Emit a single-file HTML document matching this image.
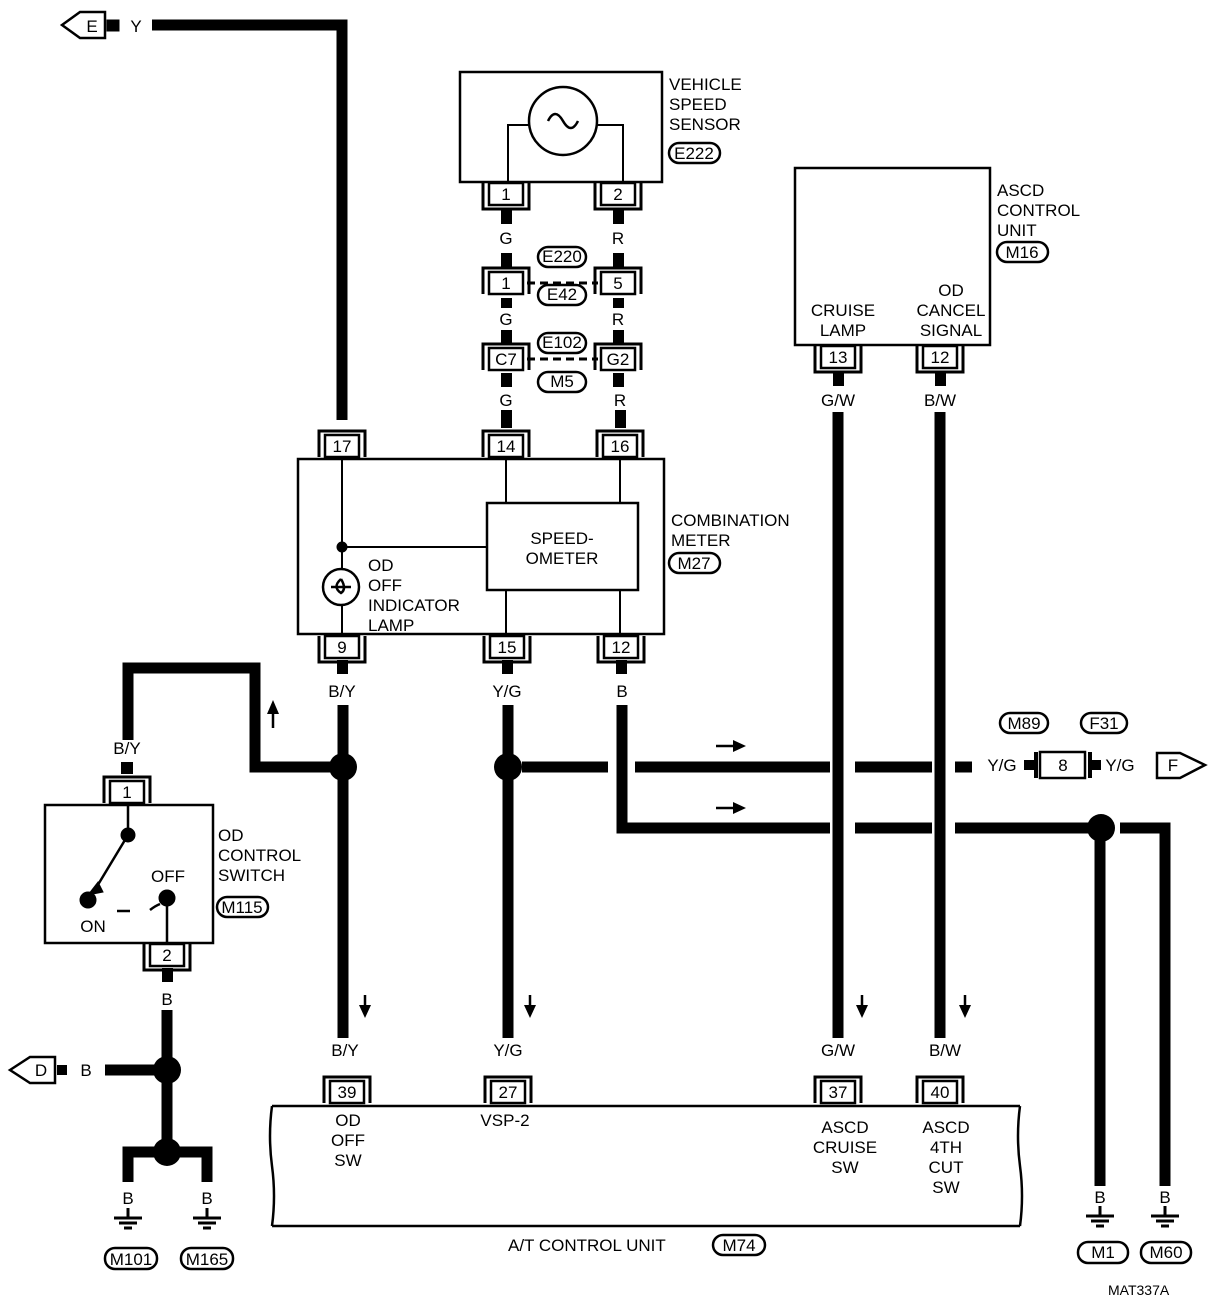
<!DOCTYPE html>
<html><head><style>
html,body{margin:0;padding:0;background:#fff;}
svg{display:block;font-family:"Liberation Sans",sans-serif;}
text{font-size:17px;fill:#000;}
.t{text-anchor:middle;}
</style></head><body>
<svg width="1216" height="1302" viewBox="0 0 1216 1302" xmlns="http://www.w3.org/2000/svg">
<defs>
<g id="cT"><path d="M-23 11 V-15 H23 V11" fill="none" stroke="#000" stroke-width="3"/><rect x="-17" y="-11" width="34" height="22" fill="#fff" stroke="#000" stroke-width="2.5"/></g>
<g id="cB"><path d="M-23 -11 V15 H23 V-11" fill="none" stroke="#000" stroke-width="3"/><rect x="-17" y="-11" width="34" height="22" fill="#fff" stroke="#000" stroke-width="2.5"/></g>
<g id="gnd"><line x1="0" y1="0" x2="0" y2="10" stroke="#000" stroke-width="3"/><line x1="-14" y1="10" x2="14" y2="10" stroke="#000" stroke-width="3"/><line x1="-9" y1="15" x2="9" y2="15" stroke="#000" stroke-width="3"/><line x1="-4" y1="20" x2="4" y2="20" stroke="#000" stroke-width="3"/></g>
</defs>
<g stroke="#000" fill="none">
<path d="M342 420 V25 H152" stroke-width="11"/>
<path d="M62 25 L80 12 H105 V38 H80 Z" stroke-width="2.5" fill="#fff"/>
<rect x="107" y="20" width="12" height="11" fill="#000"/>
<rect x="460" y="72" width="202" height="110" stroke-width="2.5"/>
<circle cx="563" cy="121" r="34" stroke-width="2.5"/>
<path d="M548 121 q7 -14 15 0 q8 14 15 0" stroke-width="2.5"/>
<path d="M529 125 H508 V182 M597 125 H623 V182" stroke-width="2"/>
<g fill="#000" stroke="none">
<rect x="501" y="209" width="11" height="15"/><rect x="613" y="209" width="11" height="15"/>
<rect x="501" y="253" width="11" height="15"/><rect x="613" y="253" width="11" height="15"/>
<rect x="501" y="298" width="11" height="10"/><rect x="613" y="298" width="11" height="10"/>
<rect x="501" y="330" width="11" height="15"/><rect x="613" y="330" width="11" height="15"/>
<rect x="501" y="373" width="11" height="14"/><rect x="613" y="373" width="11" height="14"/>
<rect x="501" y="410" width="11" height="18"/><rect x="615" y="410" width="11" height="18"/>
<rect x="337" y="660" width="11" height="14"/><rect x="502" y="660" width="11" height="14"/><rect x="616" y="660" width="11" height="14"/>
<rect x="833" y="372" width="11" height="14"/><rect x="935" y="372" width="11" height="14"/>
<rect x="121" y="762" width="12" height="12"/><rect x="162" y="968" width="11" height="14"/>
</g>
<path d="M527 283 H598 M527 359 H598" stroke-width="3" stroke-dasharray="8 5"/>
<g stroke-width="2.5" fill="#fff">
<rect x="669" y="143" width="51" height="20" rx="10"/>
<rect x="538" y="247" width="48" height="20" rx="10"/>
<rect x="538" y="285" width="48" height="20" rx="10"/>
<rect x="538" y="333" width="48" height="20" rx="10"/>
<rect x="538" y="372" width="48" height="20" rx="10"/>
<rect x="669" y="553" width="51" height="20" rx="10"/>
<rect x="997" y="242" width="51" height="20" rx="10"/>
<rect x="1000" y="713" width="48" height="20" rx="10"/>
<rect x="1081" y="713" width="46" height="20" rx="10"/>
<rect x="217" y="897" width="51" height="20" rx="10"/>
<rect x="105" y="1248" width="52" height="21" rx="10"/>
<rect x="181" y="1248" width="52" height="21" rx="10"/>
<rect x="713" y="1235" width="52" height="20" rx="10"/>
<rect x="1078" y="1242" width="50" height="21" rx="10"/>
<rect x="1141" y="1242" width="50" height="21" rx="10"/>
</g>
<rect x="298" y="459" width="366" height="175" stroke-width="2.5"/>
<rect x="487" y="503" width="151" height="87" stroke-width="2.5"/>
<path d="M342 459 V569 M342 605 V634 M506 459 V503 M620 459 V503 M506 590 V634 M620 590 V634 M342 547 H487" stroke-width="2"/>
<circle cx="342" cy="547" r="5" fill="#000"/>
<circle cx="341" cy="587" r="18" stroke-width="2.5"/>
<path d="M341 579 q-9 8 0 14 q6 -4 0 -14 M331 587 H351" stroke-width="2.5"/>
<rect x="795" y="168" width="195" height="177" stroke-width="2.5"/>
<path d="M838 412 V1038 M940 412 V1038" stroke-width="11"/>
<path d="M343 705 V1038" stroke-width="11"/>
<path d="M330 767 H255 V668 H128 V740" stroke-width="11"/>
<path d="M508 705 V1038" stroke-width="11"/>
<path d="M522 767 H608 M635 767 H830 M855 767 H932 M955 767 H972" stroke-width="11"/>
<path d="M622 705 V828 H830 M855 828 H932 M955 828 H1090" stroke-width="11"/>
<path d="M1100 828 V1186 M1120 828 H1165 V1186" stroke-width="11"/>
<path d="M1157 753 H1180 L1205 765 L1180 778 H1157 Z" stroke-width="2.5" fill="#fff"/>
<rect x="1034" y="752" width="4" height="26" fill="#000" stroke="none"/>
<rect x="1088" y="752" width="4" height="26" fill="#000" stroke="none"/>
<rect x="1040" y="752" width="45" height="26" stroke-width="2.5" fill="#fff"/>
<rect x="1091" y="760" width="10" height="10" fill="#000" stroke="none"/>
<rect x="1024" y="760" width="10" height="10" fill="#000" stroke="none"/>
<rect x="45" y="805" width="168" height="138" stroke-width="2.5"/>
<path d="M128 805 V835 L93 893 M167 898 V943" stroke-width="2.5"/>
<path d="M88 895 L98 882 L103 892 Z" fill="#000"/>
<path d="M117 911 H130 M150 910 q5 -4 10 -6" stroke-width="2.5"/>
<circle cx="128" cy="835" r="7" fill="#000"/>
<circle cx="88" cy="900" r="8" fill="#000"/>
<circle cx="167" cy="898" r="8" fill="#000"/>
<path d="M167 1010 V1152 M155 1152 H128 V1182 M180 1152 H207 V1182 M155 1070 H105" stroke-width="11"/>
<path d="M10 1070 L30 1057 H55 V1083 H30 Z" stroke-width="2.5" fill="#fff"/>
<rect x="57" y="1065" width="10" height="10" fill="#000" stroke="none"/>
<path d="M272 1106 H1020 M272 1106 q-4 30 0 60 q4 30 0 60 M1020 1106 q-4 30 0 60 q4 30 0 60 M272 1226 H1020" stroke-width="2.5"/>
<g stroke-width="2.5">
<path d="M716 746 H735 M716 808 H735"/>
<path d="M273 728 V710 M365 995 V1012 M530 995 V1012 M862 995 V1012 M965 995 V1012"/>
</g>
<g fill="#000" stroke="none">
<path d="M746 746 L733 740 V752 Z"/><path d="M746 808 L733 802 V814 Z"/>
<path d="M273 700 L267 714 H279 Z"/>
<path d="M365 1018 L359 1005 H371 Z"/><path d="M530 1018 L524 1005 H536 Z"/>
<path d="M862 1018 L856 1005 H868 Z"/><path d="M965 1018 L959 1005 H971 Z"/>
</g>
</g>
<g fill="#000">
<circle cx="343" cy="767" r="14"/><circle cx="508" cy="767" r="14"/>
<circle cx="1101" cy="828" r="14"/><circle cx="167" cy="1070" r="14"/><circle cx="167" cy="1152" r="14"/>
</g>
<use href="#gnd" x="128" y="1208"/><use href="#gnd" x="207" y="1208"/>
<use href="#gnd" x="1100" y="1206"/><use href="#gnd" x="1165" y="1206"/>
<use href="#cB" x="506" y="194"/><use href="#cB" x="618" y="194"/>
<use href="#cT" x="506" y="283"/><use href="#cT" x="618" y="283"/>
<use href="#cT" x="506" y="359"/><use href="#cT" x="618" y="359"/>
<use href="#cT" x="342" y="446"/><use href="#cT" x="506" y="446"/><use href="#cT" x="620" y="446"/>
<use href="#cB" x="342" y="647"/><use href="#cB" x="507" y="647"/><use href="#cB" x="621" y="647"/>
<use href="#cB" x="838" y="357"/><use href="#cB" x="940" y="357"/>
<use href="#cT" x="127" y="792"/><use href="#cB" x="167" y="955"/>
<use href="#cT" x="347" y="1092"/><use href="#cT" x="508" y="1092"/><use href="#cT" x="838" y="1092"/><use href="#cT" x="940" y="1092"/>
<g class="t">
<text x="506" y="200">1</text><text x="618" y="200">2</text>
<text x="506" y="289">1</text><text x="618" y="289">5</text>
<text x="506" y="365">C7</text><text x="618" y="365">G2</text>
<text x="342" y="452">17</text><text x="506" y="452">14</text><text x="620" y="452">16</text>
<text x="342" y="653">9</text><text x="507" y="653">15</text><text x="621" y="653">12</text>
<text x="838" y="363">13</text><text x="940" y="363">12</text>
<text x="127" y="798">1</text><text x="167" y="961">2</text>
<text x="347" y="1098">39</text><text x="508" y="1098">27</text><text x="838" y="1098">37</text><text x="940" y="1098">40</text>
<text x="1063" y="771">8</text>
<text x="506" y="244">G</text><text x="618" y="244">R</text>
<text x="506" y="325">G</text><text x="618" y="325">R</text>
<text x="506" y="406">G</text><text x="620" y="406">R</text>
<text x="342" y="406">Y</text>
<text x="342" y="697">B/Y</text><text x="507" y="697">Y/G</text><text x="622" y="697">B</text>
<text x="838" y="406">G/W</text><text x="940" y="406">B/W</text>
<text x="127" y="754">B/Y</text><text x="167" y="1005">B</text>
<text x="345" y="1056">B/Y</text><text x="508" y="1056">Y/G</text><text x="838" y="1056">G/W</text><text x="945" y="1056">B/W</text>
<text x="128" y="1204">B</text><text x="207" y="1204">B</text><text x="1100" y="1203">B</text><text x="1165" y="1203">B</text>
<text x="1002" y="771">Y/G</text><text x="1120" y="771">Y/G</text><text x="1173" y="771">F</text>
<text x="92" y="32">E</text><text x="136" y="32">Y</text><text x="41" y="1076">D</text><text x="86" y="1076">B</text>
<text x="562" y="544">SPEED-</text><text x="562" y="564">OMETER</text>
<text x="843" y="316">CRUISE</text><text x="843" y="336">LAMP</text>
<text x="951" y="296">OD</text><text x="951" y="316">CANCEL</text><text x="951" y="336">SIGNAL</text>
<text x="348" y="1126">OD</text><text x="348" y="1146">OFF</text><text x="348" y="1166">SW</text>
<text x="505" y="1126">VSP-2</text>
<text x="845" y="1133">ASCD</text><text x="845" y="1153">CRUISE</text><text x="845" y="1173">SW</text>
<text x="946" y="1133">ASCD</text><text x="946" y="1153">4TH</text><text x="946" y="1173">CUT</text><text x="946" y="1193">SW</text>
<text x="168" y="882">OFF</text><text x="93" y="932">ON</text>
</g>
<g style="font-size:15px" class="t">
<text x="694" y="159">E222</text><text x="562" y="262">E220</text><text x="562" y="300">E42</text>
<text x="562" y="348">E102</text><text x="562" y="387">M5</text><text x="694" y="569">M27</text>
<text x="1022" y="258">M16</text><text x="1024" y="729">M89</text><text x="1104" y="729">F31</text>
<text x="242" y="913">M115</text><text x="131" y="1265">M101</text><text x="207" y="1265">M165</text>
<text x="739" y="1251">M74</text><text x="1103" y="1258">M1</text><text x="1166" y="1258">M60</text>
</g>
<text x="669" y="90">VEHICLE</text><text x="669" y="110">SPEED</text><text x="669" y="130">SENSOR</text>
<text x="368" y="571">OD</text><text x="368" y="591">OFF</text><text x="368" y="611">INDICATOR</text><text x="368" y="631">LAMP</text>
<text x="671" y="526">COMBINATION</text><text x="671" y="546">METER</text>
<text x="997" y="196">ASCD</text><text x="997" y="216">CONTROL</text><text x="997" y="236">UNIT</text>
<text x="218" y="841">OD</text><text x="218" y="861">CONTROL</text><text x="218" y="881">SWITCH</text>
<text x="508" y="1251">A/T CONTROL UNIT</text>
<text x="1108" y="1295" style="font-size:14px">MAT337A</text>
</svg>
</body></html>
